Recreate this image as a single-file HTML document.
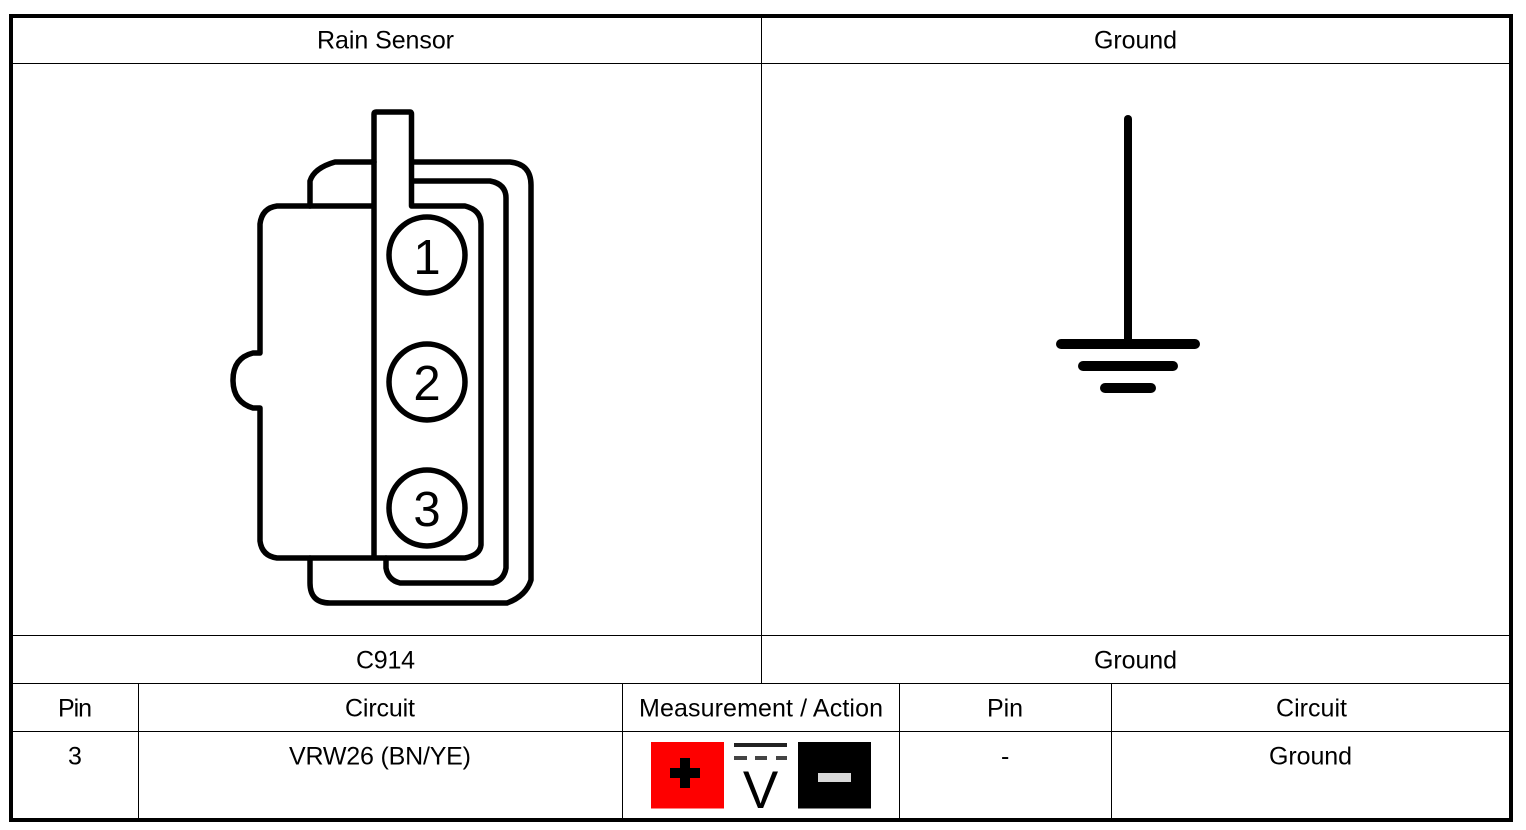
<!DOCTYPE html>
<html lang="en">
<head>
<meta charset="utf-8">
<title>Rain Sensor C914 Pinout</title>
<style>
html,body{margin:0;padding:0;background:#fff;width:1526px;height:830px;overflow:hidden}
svg{display:block}
text{font-family:"Liberation Sans",Arial,sans-serif;font-size:25px;fill:#000}
</style>
</head>
<body>
<svg width="1526" height="830" viewBox="0 0 1526 830" xmlns="http://www.w3.org/2000/svg">
<rect width="1526" height="830" fill="#fff"/>

<!-- table inner lines -->
<g stroke="#000" stroke-width="1" fill="none" shape-rendering="crispEdges">
<path d="M11 63.5H1511M11 635.5H1511M11 683.5H1511M11 731.5H1511"/>
<path d="M761.5 16V683M138.5 683V820M622.5 683V820M899.5 683V820M1111.5 683V820"/>
</g>
<!-- outer border -->
<rect x="11" y="16" width="1500" height="804" fill="none" stroke="#000" stroke-width="4"/>

<!-- connector -->
<g fill="none" stroke="#000" stroke-width="5.500" stroke-linejoin="round" stroke-linecap="round">
<path d="M310 206V181Q314 168 335 162H374"/>
<path d="M412 162H510Q531 164 531 185V580Q526 596 507 603H330Q310 603 310 583V558"/>
<path d="M412 181H490Q506 184 506 198V568Q504 580 493 583H400Q388 580 386 568V558"/>
<path d="M374 558V114Q374 112 376 112H410Q411.500 112 411.500 114V206H465Q481 210 481 224V545Q480 555 465 558H277Q262 556 260 541V408H253Q233 402 233 380Q233 358 253 353H260V224Q262 208 277 206H374"/>
<circle cx="427" cy="255" r="38"/>
<circle cx="427" cy="382" r="38"/>
<circle cx="427" cy="508" r="38"/>
</g>
<g>
<text x="427" y="274" text-anchor="middle" style="font-size:49px">1</text>
<text x="427" y="400" text-anchor="middle" style="font-size:49px">2</text>
<text x="427" y="526" text-anchor="middle" style="font-size:49px">3</text>
</g>

<!-- ground symbol -->
<g fill="none" stroke="#000" stroke-linecap="round">
<path d="M1128 119V344" stroke-width="8"/>
<path d="M1061 344H1195" stroke-width="10"/>
<path d="M1083 366H1173" stroke-width="10"/>
<path d="M1105 388H1151" stroke-width="10"/>
</g>

<!-- labels -->
<text x="317" y="48.500" textLength="137">Rain Sensor</text>
<text x="1094" y="48.500" textLength="83">Ground</text>
<text x="356" y="668.500" textLength="59">C914</text>
<text x="1094" y="668.500" textLength="83">Ground</text>
<text x="58" y="716.500" textLength="34">Pin</text>
<text x="345" y="716.500" textLength="70">Circuit</text>
<text x="639" y="716.500" textLength="244">Measurement / Action</text>
<text x="987" y="716.500" textLength="36">Pin</text>
<text x="1276" y="716.500" textLength="71">Circuit</text>
<text x="68" y="764.500">3</text>
<text x="289" y="764.500" textLength="182">VRW26 (BN/YE)</text>
<text x="1001" y="764.500">-</text>
<text x="1269" y="764.500" textLength="83">Ground</text>

<!-- measurement icons -->
<rect x="651" y="742" width="73" height="66.500" fill="#fe0000"/>
<path d="M670 768H680V758H690V768H700V778H690V788H680V778H670Z" fill="#000"/>
<rect x="798" y="742" width="73" height="66.500" fill="#000"/>
<rect x="818" y="773" width="33" height="9" fill="#d8d8d8"/>
<rect x="734" y="743" width="53" height="4" fill="#222"/>
<rect x="734" y="756" width="13" height="4" fill="#444"/>
<rect x="755" y="756" width="12" height="4" fill="#444"/>
<rect x="776" y="756" width="11" height="4" fill="#444"/>
<text x="760.500" y="808" text-anchor="middle" style="font-size:53px">V</text>
</svg>
</body>
</html>
